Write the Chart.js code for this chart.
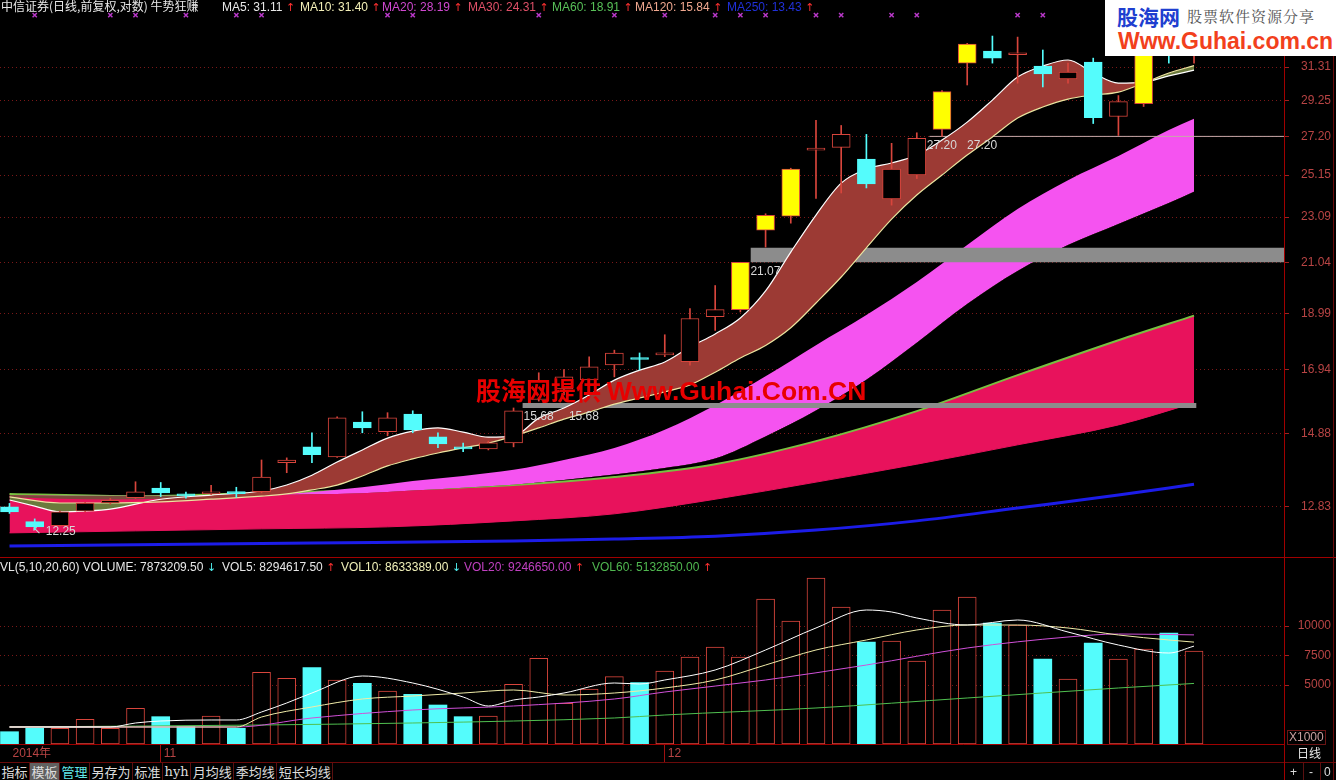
<!DOCTYPE html>
<html lang="zh-CN">
<head>
<meta charset="UTF-8">
<title>中信证券 日线 牛势狂赚</title>
<style>
  body { margin:0; background:#000; width:1336px; height:780px; overflow:hidden; position:relative;
         font-family:"Liberation Sans", Arial, sans-serif; font-size:12px; color:#ddd; }
  canvas { position:absolute; left:0; }
  #priceChart { top:0; }
  #volChart { top:557px; }
  .t { position:absolute; white-space:nowrap; font-size:12px; line-height:14px; }
  .cjk { font-family:"Noto Sans CJK SC", sans-serif; }
  .ar { font-family:"DejaVu Sans", sans-serif; font-size:11px; }
  .up { color:#ff3030; }
  .dn { color:#50f0f0; }
  .hl { position:absolute; height:1px; background:#a00000; }
  .vl { position:absolute; width:1px; background:#a00000; }
  #logo { position:absolute; left:1105px; top:0; width:231px; height:56px; background:#fff; }
  #logo .a { position:absolute; left:12px; top:3px; font:bold 21px "Noto Sans CJK SC", sans-serif; color:#1f3fd0; line-height:26px; }
  #logo .b { position:absolute; left:82px; top:6px; font:15px "Noto Serif CJK SC", "Noto Sans CJK SC", serif; color:#555; letter-spacing:1px; line-height:20px; }
  #logo .c { position:absolute; left:13px; top:28px; font:bold 23px "Liberation Sans", Arial, sans-serif; color:#f2401c; line-height:26px; }
  #mark { position:absolute; left:476px; top:374px; font:bold 25px "Noto Sans CJK SC", sans-serif; color:#e80000; white-space:nowrap; line-height:30px; }
  #mark span { font-family:"Liberation Sans", Arial, sans-serif; font-size:26.5px; }
  #tabs { position:absolute; left:0; top:763px; height:17px; display:flex; }
  #tabs div { font:13px "Noto Sans CJK SC", sans-serif; color:#ddd; padding:0 1.5px; line-height:17px; border-right:1px solid #5a1010; }
  #x1000 { position:absolute; left:1287px; top:730px; border:1px solid #6a1515; color:#c8a0a0; font-size:12px; line-height:13px; padding:0 1px; }
</style>
</head>
<body>
<canvas id="priceChart" width="1336" height="557"></canvas>
<canvas id="volChart" width="1336" height="205"></canvas>

<!-- header of the price panel -->
<div class="t cjk" style="left:1px;top:-1px;color:#e8e8e8;">中信证券(日线,前复权,对数) 牛势狂赚</div>
<div class="t" style="left:222px;top:0;color:#e8e8e8;">MA5: 31.11<span class="ar up"> ↑</span></div>
<div class="t" style="left:300px;top:0;color:#f4f0b8;">MA10: 31.40<span class="ar up"> ↑</span></div>
<div class="t" style="left:382px;top:0;color:#d048d0;">MA20: 28.19<span class="ar up"> ↑</span></div>
<div class="t" style="left:468px;top:0;color:#e05068;">MA30: 24.31<span class="ar up"> ↑</span></div>
<div class="t" style="left:552px;top:0;color:#58c058;">MA60: 18.91<span class="ar up"> ↑</span></div>
<div class="t" style="left:635px;top:0;color:#f0a890;">MA120: 15.84<span class="ar up"> ↑</span></div>
<div class="t" style="left:727px;top:0;color:#2030d8;">MA250: 13.43<span class="ar up"> ↑</span></div>

<!-- header of the volume panel -->
<div class="t" style="left:0;top:560px;color:#e8e8e8;">VL(5,10,20,60) VOLUME: 7873209.50<span class="ar dn"> ↓</span></div>
<div class="t" style="left:222px;top:560px;color:#e8e8e8;">VOL5: 8294617.50<span class="ar up"> ↑</span></div>
<div class="t" style="left:341px;top:560px;color:#f0f0b8;">VOL10: 8633389.00<span class="ar dn"> ↓</span></div>
<div class="t" style="left:464px;top:560px;color:#c040c0;">VOL20: 9246650.00<span class="ar up"> ↑</span></div>
<div class="t" style="left:592px;top:560px;color:#50b850;">VOL60: 5132850.00<span class="ar up"> ↑</span></div>

<div class="hl" style="left:0;top:557px;width:1336px;"></div>
<div class="hl" style="left:0;top:762px;width:1336px;background:#6a0a0a;"></div>
<div class="vl" style="left:1284px;top:744px;height:36px;"></div>
<div class="vl" style="left:1333px;top:0;height:780px;background:#6a0a0a;"></div>
<div id="x1000">X1000</div>
<div class="t cjk" style="left:1297px;top:746px;color:#e8e8e8;">日线</div>
<div class="t" style="left:1290px;top:765px;color:#ddd;">+</div>
<div class="vl" style="left:1303px;top:763px;height:17px;background:#5a1010;"></div>
<div class="t" style="left:1309px;top:765px;color:#ddd;">-</div>
<div class="vl" style="left:1320px;top:763px;height:17px;background:#5a1010;"></div>
<div class="t" style="left:1324px;top:765px;color:#ddd;">0</div>

<div id="tabs">
  <div>指标</div><div style="background:#606060;">模板</div><div style="color:#60e8e8;">管理</div><div>另存为</div><div>标准</div><div style="font-family:'DejaVu Serif',serif;">hyh</div><div>月均线</div><div>季均线</div><div>短长均线</div>
</div>

<div id="logo"><div class="a">股海网</div><div class="b">股票软件资源分享</div><div class="c">Www.Guhai.com.cn</div></div>
<div id="mark">股海网提供 <span>Www.Guhai.Com.CN</span></div>

<script src="https://cdn.jsdelivr.net/npm/chart.js"></script>
<script>
// ---- daily candles (index 0 = first visible day) ----
const OPEN  = [12.83,12.45,12.35,12.72,12.93,13.07,13.33,13.14,13.17,13.22,13.23,14.03,14.49,14.20,15.24,14.94,15.49,14.79,14.49,14.43,
               14.61,15.95,16.30,16.60,17.11,17.33,17.46,17.22,18.87,19.14,22.49,23.14,26.45,26.60,25.98,23.96,25.15,27.59,31.56,32.34,
               32.10,31.37,30.56,31.63,28.32,29.07,33.40,32.50];
const HIGH  = [12.92,12.52,12.72,12.95,13.05,13.50,13.48,13.22,13.40,13.35,14.11,14.17,14.91,15.40,15.56,15.53,15.59,14.91,14.60,14.66,
               15.68,16.84,16.95,17.39,17.63,17.53,18.19,19.18,20.10,21.07,23.25,25.50,28.10,27.81,27.31,26.82,27.40,29.85,32.85,33.34,
               33.27,32.41,31.56,31.88,29.55,32.60,33.80,33.60];
const LOW   = [12.66,12.25,12.33,12.70,12.90,13.05,13.10,13.06,13.15,13.08,13.20,13.75,14.03,14.18,14.91,14.82,14.91,14.47,14.35,14.40,
               14.49,15.90,16.10,16.50,16.70,16.94,17.40,17.10,18.35,19.05,21.73,22.81,23.98,24.25,24.50,23.66,24.97,27.20,30.19,31.56,
               30.30,30.07,30.30,27.92,27.25,28.90,31.56,31.56];
const CLOSE = [12.70,12.32,12.70,12.93,13.00,13.23,13.20,13.12,13.23,13.18,13.63,14.11,14.26,15.37,15.06,15.37,15.00,14.58,14.43,14.61,
               15.59,16.55,16.70,17.04,17.53,17.30,17.53,18.80,19.14,21.07,23.18,25.46,26.55,27.31,24.70,25.46,27.09,29.79,32.81,31.88,
               32.20,30.87,30.99,28.26,29.19,32.28,32.80,33.00];
const STRONG_DAYS = [29, 30, 31, 37, 38, 45];          // days the formula paints yellow
const VOLUME = [1042,1331,1330,2093,1330,3025,2316,1469,2373,1330,6073,5565,6469,5424,5141,4492,4209,3305,2316,2373,
                5057,7260,3446,4661,5706,5198,6187,7373,8221,7373,12289,10424,14069,11611,8645,8729,7034,11357,12458,10255,
                10085,7204,5509,8560,7204,8051,9407,7873];   // x1000 shares

// ---- moving averages (day, value) ----
const MA5_DAYS = [0,1,2,3,4,6,8,10,11,12,13,14,15,16,17,18,19,20,21,22,23,24,25,26,27,28,29,30,31,32,33,34,35,36,37,38,39,40,41,42,43,44,45,46,47];
const MA5  = [13.01,12.85,12.70,12.72,12.77,13.03,13.14,13.25,13.41,13.68,14.05,14.40,14.75,14.96,15.06,14.93,14.78,14.81,15.36,15.68,
              16.10,16.59,16.93,17.21,17.74,18.22,18.82,19.88,21.51,23.19,24.74,25.46,25.77,26.19,27.00,28.00,29.28,30.68,31.37,31.76,
              30.93,30.31,30.37,30.75,31.11];
const MA10_DAYS = [0,2,4,6,8,10,11,12,13,14,15,16,17,18,19,20,21,22,23,24,25,26,27,28,29,30,31,32,33,34,35,36,37,38,39,40,41,42,43,44,45,46,47];
const MA10 = [13.09,12.93,12.93,12.96,13.03,13.11,13.17,13.28,13.41,13.66,13.94,14.14,14.31,14.46,14.60,14.81,15.06,15.33,15.55,15.80,
              16.00,16.20,16.43,16.86,17.35,17.80,18.45,19.40,20.45,21.70,23.00,24.15,25.15,26.19,27.17,28.23,28.87,29.34,29.58,29.76,
              30.31,30.93,31.40];
const MA20_DAYS = [0,4,8,10,12,14,16,18,20,22,24,26,28,30,32,34,36,38,40,42,44,46,47];
const MA20 = [13.08,13.02,13.08,13.11,13.22,13.35,13.52,13.66,13.83,14.11,14.46,15.00,15.77,16.72,17.81,18.93,20.24,21.82,23.47,24.89,26.14,27.56,28.19];
const MA30_DAYS = [0,4,8,10,12,14,16,18,20,22,24,26,28,30,32,34,36,38,40,42,44,46,47];
const MA30 = [13.14,13.12,13.12,13.13,13.16,13.19,13.26,13.34,13.42,13.55,13.70,13.88,14.15,14.80,15.60,16.60,17.90,19.36,20.70,21.82,22.77,23.76,24.31];
const MA60_DAYS = [0,5,10,15,20,24,28,32,36,40,44,47];
const MA60 = [13.17,13.11,13.20,13.28,13.41,13.63,13.99,14.66,15.58,16.76,17.99,18.91];
const MA120_DAYS = [0,5,10,15,20,24,28,32,36,40,44,47];
const MA120 = [12.17,12.22,12.27,12.32,12.47,12.65,13.03,13.49,13.99,14.55,15.15,15.84];
const MA250_DAYS = [0,12,20,24,28,32,36,40,44,47];
const MA250 = [11.85,11.92,11.97,12.02,12.09,12.24,12.47,12.80,13.14,13.43];

const VOL5_DAYS = [0,4,5,6,8,9,10,11,12,14,16,18,19,20,21,22,24,25,26,28,30,32,34,35,36,38,40,42,44,46,47];
const VOL5  = [1441,1441,1780,1949,2034,2034,2712,3475,4322,5763,5170,3983,3220,3729,3983,4322,5170,5085,5424,6272,7967,9831,
               11357,11187,10680,10085,10510,9490,8390,7710,8295];
const VOL10_DAYS = [0,9,10,12,14,16,18,20,22,24,26,28,30,32,34,36,38,40,42,44,46,47];
const VOL10 = [1441,1441,2288,3136,3814,4068,4322,4577,4153,4322,4746,5424,6695,7967,8814,9662,10085,10085,9831,9238,8814,8633];
const VOL20_DAYS = [0,9,12,16,20,24,26,30,34,38,42,44,47];
const VOL20 = [1441,1441,2204,2882,3221,3814,4407,5424,6695,8136,9068,9323,9247];
const VOL60_DAYS = [0,10,16,20,24,26,32,38,44,47];
const VOL60 = [1441,1610,1780,1949,2204,2458,3051,3899,4746,5133];

// ---- axis ticks, levels and notes ----
const PRICE_TICKS = [12.83,14.88,16.94,18.99,21.04,23.09,25.15,27.20,29.25,31.31];
const VOL_TICKS = [5000, 7500, 10000];
const DATE_TICKS = [0, 6, 26];
const DATE_LABELS = ['2014年', '11', '12'];
const MARK_DAYS = [1,4,5,7,9,10,15,16,21,24,26,28,29,30,32,33,35,36,40,41];
const MARK_LEVEL = 34.79;
const SUPPORT_FROM = [29.4, 20.35];
const SUPPORT_TO   = [50.6, 47.1];
const SUPPORT_LOW  = [21.07, 15.68];
const SUPPORT_HIGH = [21.70, 15.84];
const LINE_2720 = { from: 36.5, to: 50.6, value: 27.20 };
const NOTES = [
  { day: 1,  value: 12.25, text: '12.25', arrow: true },
  { day: 29, value: 21.07, text: '21.07' },
  { day: 20, value: 15.68, text: '15.68' },
  { day: 21.8, value: 15.68, text: '15.68' },
  { day: 36, value: 27.20, text: '27.20' },
  { day: 37.6, value: 27.20, text: '27.20' }
];

const X_MIN = -0.377, X_MAX = 50.57;
const PRICE_MIN = 11.589, PRICE_MAX = 35.87;
const VOL_MAX = 15848;

const RED = '#d8453c', CYAN = '#54fcfc', YELLOW = '#ffff00';
Chart.defaults.font.family = '"Liberation Sans", Arial, sans-serif';
Chart.defaults.font.size = 12;

const pts = (days, vals) => days.map((d, k) => ({ x: d, y: vals[k] }));
const isUp = i => CLOSE[i] >= OPEN[i];
const bodyFill = i => STRONG_DAYS.includes(i) ? YELLOW : (isUp(i) ? '#000' : CYAN);
const lineDs = (label, data, color, width, order, extra) => Object.assign({
  type: 'line', label, data, borderColor: color, borderWidth: width, pointRadius: 0,
  cubicInterpolationMode: 'monotone', fill: false, order
}, extra || {});
// keep the plot area flush with the canvas edges
const flatY = w => s => { s.width = w; s.paddingTop = 0; s.paddingBottom = 0; };

// notes go over the MA bands but under the candles
const notesPlugin = {
  id: 'notes',
  afterDatasetDraw(chart, args) {
    if (chart.data.datasets[args.index].label !== 'MA10') return;
    const { ctx, scales: { x, y } } = chart;
    ctx.save();
    ctx.fillStyle = '#d8d8d8';
    ctx.textBaseline = 'middle';
    NOTES.forEach(n => {
      const px = x.getPixelForValue(n.day), py = y.getPixelForValue(n.value);
      if (n.arrow) {
        ctx.font = '11px "DejaVu Sans", sans-serif';
        ctx.fillText('↖', px - 3, py + 1);
        ctx.font = '12px "Liberation Sans", Arial, sans-serif';
        ctx.fillText(n.text, px + 11, py + 2);
      } else {
        ctx.font = '12px "Liberation Sans", Arial, sans-serif';
        ctx.fillText(n.text, px + 10, py + 9);
      }
    });
    ctx.restore();
  }
};

const days = OPEN.map((_, i) => i);

new Chart(document.getElementById('priceChart'), {
  type: 'line',
  data: {
    datasets: [
      { type: 'scatter', data: MARK_DAYS.map(d => ({ x: d, y: MARK_LEVEL })), pointStyle: 'crossRot',
        pointRadius: 3, borderColor: '#b838c8', borderWidth: 1.5, order: 1 },
      { type: 'bar', data: days.map(i => ({ x: i, y: [Math.min(OPEN[i], CLOSE[i]), Math.max(OPEN[i], CLOSE[i])] })),
        barThickness: 18, grouped: false, minBarLength: 2, borderSkipped: false, borderWidth: 1,
        backgroundColor: c => bodyFill(c.dataIndex),
        borderColor: c => isUp(c.dataIndex) ? RED : CYAN, order: 2 },
      { type: 'bar', data: days.map(i => ({ x: i, y: [LOW[i], HIGH[i]] })),
        barThickness: 1, grouped: false, borderWidth: 0,
        backgroundColor: c => isUp(c.dataIndex) ? RED : CYAN, order: 3 },
      lineDs('MA5', pts(MA5_DAYS, MA5), '#ffffff', 1.2, 10, { fill: { target: 4, above: '#9c3a34', below: '#6b7a3c' } }),
      lineDs('MA10', pts(MA10_DAYS, MA10), '#ece4a0', 1.2, 9),
      lineDs('S1', [{ x: SUPPORT_FROM[0], y: SUPPORT_HIGH[0] }, { x: SUPPORT_TO[0], y: SUPPORT_HIGH[0] }], '#8c8c8c', 0, 20,
        { cubicInterpolationMode: 'default', fill: { target: 6, above: '#8c8c8c', below: '#8c8c8c' } }),
      lineDs('S1b', [{ x: SUPPORT_FROM[0], y: SUPPORT_LOW[0] }, { x: SUPPORT_TO[0], y: SUPPORT_LOW[0] }], '#8c8c8c', 0, 21,
        { cubicInterpolationMode: 'default' }),
      lineDs('S2', [{ x: SUPPORT_FROM[1], y: SUPPORT_HIGH[1] }, { x: SUPPORT_TO[1], y: SUPPORT_HIGH[1] }], '#8c8c8c', 0, 22,
        { cubicInterpolationMode: 'default', fill: { target: 8, above: '#8c8c8c', below: '#8c8c8c' } }),
      lineDs('S2b', [{ x: SUPPORT_FROM[1], y: SUPPORT_LOW[1] }, { x: SUPPORT_TO[1], y: SUPPORT_LOW[1] }], '#8c8c8c', 0, 23,
        { cubicInterpolationMode: 'default' }),
      lineDs('L2720', [{ x: LINE_2720.from, y: LINE_2720.value }, { x: LINE_2720.to, y: LINE_2720.value }], '#c8a8a8', 1, 15,
        { cubicInterpolationMode: 'default' }),
      lineDs('MA20', pts(MA20_DAYS, MA20), '#f553f0', 0, 31, { fill: { target: 11, above: '#f553f0', below: '#7a4a3c' } }),
      lineDs('MA30', pts(MA30_DAYS, MA30), '#f553f0', 0, 30),
      lineDs('MA60', pts(MA60_DAYS, MA60), '#78c040', 2, 41, { fill: { target: 13, above: '#e8125c', below: '#e8125c' } }),
      lineDs('MA120', pts(MA120_DAYS, MA120), '#e8125c', 1, 40),
      lineDs('MA250', pts(MA250_DAYS, MA250), '#1c1ce8', 3, 50)
    ]
  },
  options: {
    responsive: false, animation: false, devicePixelRatio: 1,
    layout: { autoPadding: false, padding: { left: 0, right: 5, top: 0, bottom: 0 } },
    plugins: { legend: { display: false }, tooltip: { enabled: false } },
    scales: {
      x: { type: 'linear', min: X_MIN, max: X_MAX, display: false, offset: false, grid: { offset: false } },
      y: {
        type: 'logarithmic', position: 'right', min: PRICE_MIN, max: PRICE_MAX,
        afterFit: flatY(47),
        afterBuildTicks: s => { s.ticks = PRICE_TICKS.map(v => ({ value: v })); },
        ticks: { callback: v => v.toFixed(2), color: '#b84444', crossAlign: 'far', padding: 0, autoSkip: false },
        grid: { color: '#7a1818', tickColor: '#a02020', tickLength: 5 },
        border: { color: '#a00000', dash: [1, 3] }
      }
    }
  },
  plugins: [notesPlugin]
});

new Chart(document.getElementById('volChart'), {
  type: 'line',
  data: {
    datasets: [
      lineDs('VOL5', pts(VOL5_DAYS, VOL5), '#ffffff', 1, 1),
      lineDs('VOL10', pts(VOL10_DAYS, VOL10), '#f0eca8', 1, 2),
      lineDs('VOL20', pts(VOL20_DAYS, VOL20), '#d050d8', 1, 3),
      lineDs('VOL60', pts(VOL60_DAYS, VOL60), '#50c050', 1, 4),
      { type: 'bar', data: days.map(i => ({ x: i, y: VOLUME[i] })), barThickness: 18, grouped: false,
        borderSkipped: false, borderWidth: c => isUp(c.dataIndex) ? 1 : 0,
        backgroundColor: c => isUp(c.dataIndex) ? '#000' : CYAN, borderColor: RED, order: 10 }
    ]
  },
  options: {
    responsive: false, animation: false, devicePixelRatio: 1,
    layout: { autoPadding: false, padding: { left: 0, right: 5, top: 0, bottom: 0 } },
    plugins: { legend: { display: false }, tooltip: { enabled: false } },
    scales: {
      x: {
        type: 'linear', min: X_MIN, max: X_MAX, position: 'bottom', offset: false,
        afterFit: s => { s.height = 18; s.paddingLeft = 0; s.paddingRight = 0; },
        afterBuildTicks: s => { s.ticks = DATE_TICKS.map(v => ({ value: v })); },
        ticks: { callback: v => DATE_LABELS[DATE_TICKS.indexOf(v)], color: '#b84444', align: 'start',
                 padding: -16, labelOffset: 3, autoSkip: false, maxRotation: 0 },
        grid: { offset: false, drawOnChartArea: false, tickLength: 18,
                tickColor: c => c.index === 0 ? 'rgba(0,0,0,0)' : '#a01010' },
        border: { color: '#a00000' }
      },
      y: {
        position: 'right', min: 0, max: VOL_MAX,
        afterFit: flatY(47),
        afterBuildTicks: s => { s.ticks = VOL_TICKS.map(v => ({ value: v })); },
        ticks: { callback: v => String(v), color: '#b84444', crossAlign: 'far', padding: 0, autoSkip: false },
        grid: { color: '#7a1818', tickColor: '#a02020', tickLength: 5 },
        border: { color: '#a00000', dash: [1, 3] }
      }
    }
  }
});
</script>
</body>
</html>
